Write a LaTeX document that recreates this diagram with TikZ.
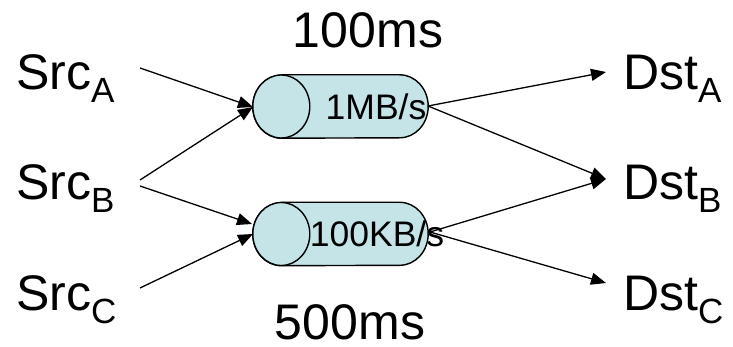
\documentclass[tikz,border=0pt]{standalone}
\usepackage{fontspec}
\setmainfont{Liberation Sans}
\usetikzlibrary{arrows.meta,calc}
\definecolor{pipefill}{RGB}{196,228,232}
\newcommand\lblsub[1]{\raisebox{-13pt}{\fontsize{35}{35}\selectfont #1}}
\tikzset{
  lbl/.style={inner sep=0pt, anchor=base west, font=\fontsize{50}{50}\selectfont},
  delay/.style={inner sep=0pt, anchor=base, font=\fontsize{50}{50}\selectfont},
  rate/.style={inner sep=0pt, font=\fontsize{35.5}{35.5}\selectfont},
  arr/.style={-{Triangle[length=15pt,width=12pt]}, line width=1.3pt},
  pipeline/.style={draw=black, line width=1.4pt, fill=pipefill},
  pipebox/.style={draw=none, minimum width=175pt, minimum height=63pt, inner sep=0pt}
}
\begin{document}
\begin{tikzpicture}[x=1pt,y=1pt]
\useasboundingbox (0,0) rectangle (733,-347);
% pipes
\node[pipebox] (p1) at (340.5,-106.5) {};
\node[pipebox] (p2) at (340.5,-234) {};
\foreach \p in {p1,p2}{
  \draw[pipeline] ($(\p.north west)+(28.5,0)$) -- ($(\p.north east)+(-28.5,0)$)
    arc[start angle=90,end angle=-90,x radius=28.5,y radius=31.5]
    -- ($(\p.south west)+(28.5,0)$)
    arc[start angle=270,end angle=90,x radius=28.5,y radius=31.5] -- cycle;
  \draw[pipeline] ($(\p.west)+(28.5,0)$) ellipse[x radius=28.5,y radius=31.5];
}
\node[rate] (r1) at (376,-107) {1MB/s};
\node[rate] (r2) at (377,-234) {100KB/s};
% labels
\node[delay] (d1) at (368,-48) {100ms};
\node[delay] (d2) at (350,-339) {500ms};
\node[lbl] (sa) at (16,-90) {Src\lblsub{A}};
\node[lbl] (sb) at (16,-200) {Src\lblsub{B}};
\node[lbl] (sc) at (16,-310) {Src\lblsub{C}};
\node[lbl] (da) at (623,-90) {Dst\lblsub{A}};
\node[lbl] (db) at (623,-200) {Dst\lblsub{B}};
\node[lbl] (dc) at (623,-310) {Dst\lblsub{C}};
% ports
\coordinate (sa-o) at (140,-68);
\coordinate (sb-o1) at (140,-180);
\coordinate (sb-o2) at (140,-186);
\coordinate (sc-o) at (140,-288);
\coordinate (p1-i) at (253,-107);
\coordinate (p2-ib) at (252,-224);
\coordinate (p2-ic) at (253,-234);
\coordinate (p1-o) at (428,-106);
\coordinate (p2-o) at (430,-232);
\coordinate (da-i) at (606,-72);
\coordinate (db-i) at (606,-179);
\coordinate (dc-i) at (606,-283);
% connectors
\draw[arr] (sa-o) -- (p1-i);
\draw[arr] (sb-o1) -- (p1-i);
\draw[arr] (sb-o2) -- (p2-ib);
\draw[arr] (sc-o) -- (p2-ic);
\draw[arr] (p1-o) -- (da-i);
\draw[arr] (p1-o) -- (db-i);
\draw[arr] (p2-o) -- (db-i);
\draw[arr] (p2-o) -- (dc-i);
\end{tikzpicture}
\end{document}
